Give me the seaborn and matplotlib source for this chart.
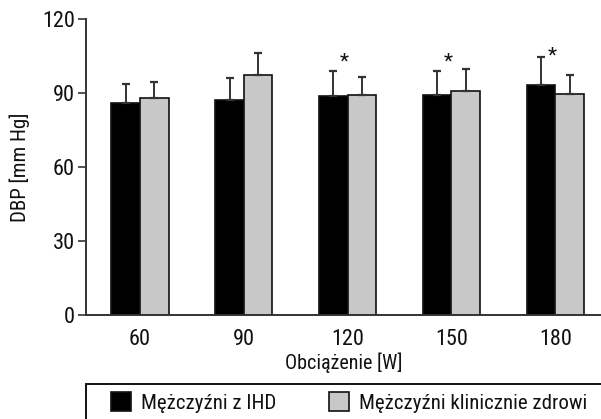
import matplotlib
matplotlib.use("Agg")
import matplotlib.pyplot as plt
from matplotlib import font_manager
from matplotlib.patches import Patch, Rectangle
import numpy as np
import pandas as pd
import seaborn as sns

# Load levels and measurements
loads = ["60", "90", "120", "150", "180"]
groups = ["Mężczyźni z IHD", "Mężczyźni klinicznie zdrowi"]
dbp_ihd = [86.1, 87.2, 88.9, 89.3, 93.2]
dbp_healthy = [87.8, 97.3, 89.3, 90.9, 89.7]
sd_ihd = [7.4, 8.7, 10.0, 9.6, 11.2]
sd_healthy = [6.8, 9.0, 7.2, 8.8, 7.7]
# significance markers: load index and height
star_idx = [2, 3, 4]
star_y = [102.7, 102.7, 105.0]

sns.set_theme(style="white")
names = {f.name for f in font_manager.fontManager.ttflist}
family = "Liberation Sans"
for cand in ["Liberation Sans Narrow", "Roboto Condensed", "Open Sans Condensed",
             "Arial Narrow", "Noto Sans Condensed"]:
    if cand in names:
        family = cand
        break
narrow = family != "Liberation Sans"
plt.rcParams["font.family"] = [family, "DejaVu Sans"]
scale = 1.0 if narrow else 0.9

df = pd.DataFrame({
    "load": loads * 2,
    "group": [groups[0]] * len(loads) + [groups[1]] * len(loads),
    "dbp": dbp_ihd + dbp_healthy,
})

W, H = 601, 419
fig = plt.figure(figsize=(W / 100, H / 100), dpi=100)
ax = fig.add_axes([86 / W, 104 / H, 1 - 86 / W, (315 - 19) / H])

palette = {groups[0]: "#000000", groups[1]: "#c8c8c8"}
sns.barplot(data=df, x="load", y="dbp", hue="group", order=loads,
            hue_order=groups, palette=palette, width=0.55, dodge=True,
            errorbar=None, edgecolor="#111111", linewidth=1.2,
            saturation=1, legend=False, ax=ax)

# upward-only error bars placed at the drawn bar centres
for container, means, sds in zip(ax.containers, [dbp_ihd, dbp_healthy],
                                 [sd_ihd, sd_healthy]):
    xs = [p.get_x() + p.get_width() / 2 for p in container.patches]
    ax.errorbar(xs, means, yerr=[np.zeros(len(sds)), sds], fmt="none",
                ecolor="#333333", elinewidth=1.4, capsize=3.0,
                capthick=1.6, zorder=1)

for i, y in zip(star_idx, star_y):
    ax.text(i - 0.03, y, "*", ha="center", va="center", fontsize=15,
            color="#111111")

ax.set_ylim(0, 120)
ax.set_xlim(-0.52, 4.44)
ax.set_yticks([0, 30, 60, 90, 120])
ax.tick_params(axis="y", which="both", left=True, length=6, width=1.2,
               color="#333333", pad=2, labelsize=16 * scale)
ax.tick_params(axis="x", bottom=False, pad=4, labelsize=16 * scale)
for lab in ax.get_xticklabels() + ax.get_yticklabels():
    lab.set_color("#111111")

for side in ["top", "right"]:
    ax.spines[side].set_visible(False)
for side in ["left", "bottom"]:
    ax.spines[side].set_color("#333333")
    ax.spines[side].set_linewidth(1.4)

ax.set_xlabel("Obciążenie [W]", fontsize=14.5 * scale, color="#111111", labelpad=2)
ax.set_ylabel("DBP [mm Hg]", fontsize=15 * scale, color="#111111", labelpad=9)

# legend box running off the right and bottom edges
fig.patches.append(Rectangle((86 / W, -0.05), 1.1, (H - 384) / H + 0.05,
                             transform=fig.transFigure, fill=False,
                             edgecolor="#111111", linewidth=1.4))
handles = [Patch(facecolor=palette[g], edgecolor="#111111", linewidth=1.2)
           for g in groups]
leg = fig.legend(handles, groups, loc="center left",
                 bbox_to_anchor=(111 / W, 1 - 402.5 / H), ncol=2,
                 frameon=False, fontsize=15 * scale,
                 handlelength=0.96, handleheight=1.04, handletextpad=0.5,
                 columnspacing=2.5, borderpad=0, borderaxespad=0)
for t in leg.get_texts():
    t.set_color("#111111")

fig.savefig("out.png", dpi=100)
